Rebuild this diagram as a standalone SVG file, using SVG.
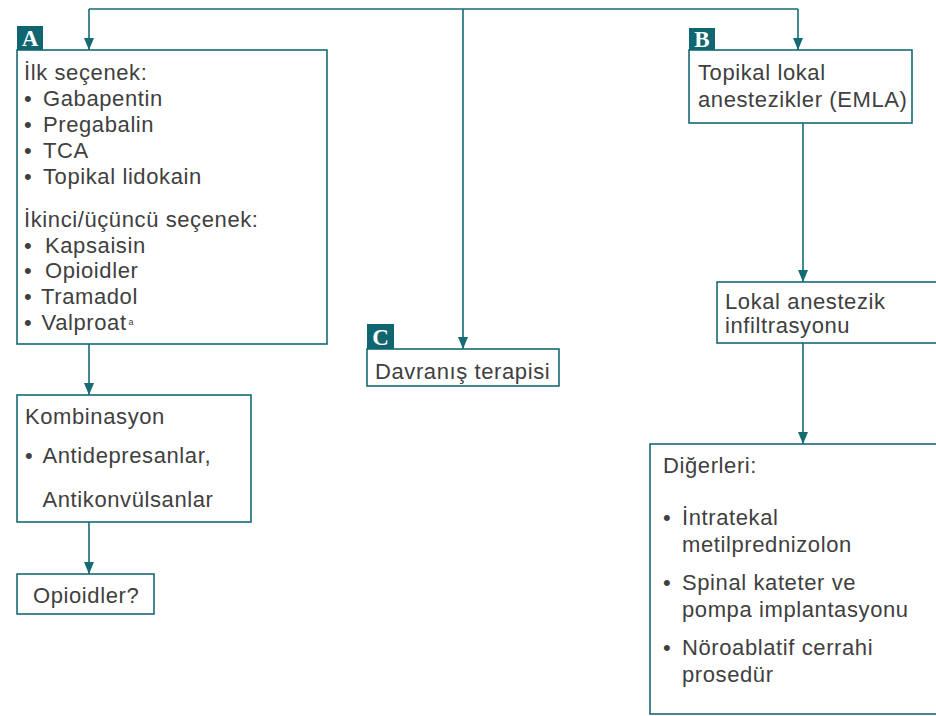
<svg xmlns="http://www.w3.org/2000/svg" width="936" height="716" viewBox="0 0 936 716">
  <style>
    .box { fill: #ffffff; stroke: #156b73; stroke-width: 1.6; }
    .tag { fill: #0f6670; }
    .tagtxt { font-family: "Liberation Serif", "Times New Roman", serif; font-weight: bold; font-size: 23px; fill: #ffffff; text-anchor: middle; }
    .t { font-family: "Liberation Sans", Arial, sans-serif; font-size: 22px; letter-spacing: 0.6px; fill: #404040; }
    .sup { font-size: 9px; letter-spacing: 0; }
    .conn { fill: none; stroke: #156b73; stroke-width: 1.6; }
  </style>
  <defs>
    <marker id="arrow" viewBox="0 0 12 10" refX="12" refY="5" markerWidth="12" markerHeight="10" markerUnits="userSpaceOnUse" orient="auto">
      <path d="M0,0 L12,5 L0,10 z" fill="#156b73"/>
    </marker>
  </defs>
  <rect width="936" height="716" fill="#ffffff"/>

  <!-- connectors -->
  <g id="connectors">
    <path class="conn" d="M89,9 H798"/>
    <path class="conn" d="M89,9 V50" marker-end="url(#arrow)"/>
    <path class="conn" d="M463,9 V349" marker-end="url(#arrow)"/>
    <path class="conn" d="M798,9 V50" marker-end="url(#arrow)"/>
    <path class="conn" d="M89,344 V395" marker-end="url(#arrow)"/>
    <path class="conn" d="M89,522 V574" marker-end="url(#arrow)"/>
    <path class="conn" d="M803,123 V282" marker-end="url(#arrow)"/>
    <path class="conn" d="M803,343 V444" marker-end="url(#arrow)"/>
  </g>

  <!-- A: pharmacological options -->
  <g id="nodeA">
    <rect class="box" x="17" y="50" width="310" height="294"/>
    <rect class="tag" x="17" y="26" width="26" height="24"/>
    <text class="tagtxt" x="30" y="46">A</text>
    <text class="t" x="24" y="80">İlk seçenek:</text>
    <text class="t" x="24" y="106">• <tspan x="43">Gabapentin</tspan></text>
    <text class="t" x="24" y="132">• <tspan x="43">Pregabalin</tspan></text>
    <text class="t" x="24" y="157.5">• <tspan x="43">TCA</tspan></text>
    <text class="t" x="24" y="183.5">• <tspan x="43">Topikal lidokain</tspan></text>
    <text class="t" x="24" y="227">İkinci/üçüncü seçenek:</text>
    <text class="t" x="24" y="253">• <tspan x="45">Kapsaisin</tspan></text>
    <text class="t" x="24" y="278">• <tspan x="45">Opioidler</tspan></text>
    <text class="t" x="24" y="304">•<tspan x="41">Tramadol</tspan></text>
    <text class="t" x="24" y="330">• <tspan x="41.5">Valproat</tspan><tspan class="sup" dx="2" dy="-5">a</tspan></text>
  </g>

  <g id="nodeCombination">
    <rect class="box" x="17" y="395" width="234" height="127"/>
    <text class="t" x="25" y="424">Kombinasyon</text>
    <text class="t" x="25" y="463">• <tspan x="42.5">Antidepresanlar,</tspan></text>
    <text class="t" x="42.5" y="507">Antikonvülsanlar</text>
  </g>

  <g id="nodeOpioids">
    <rect class="box" x="17" y="574" width="137" height="40"/>
    <text class="t" x="33" y="603">Opioidler?</text>
  </g>

  <!-- C: behavioural therapy -->
  <g id="nodeC">
    <rect class="box" x="367" y="349" width="192" height="37"/>
    <rect class="tag" x="367" y="324" width="27" height="25"/>
    <text class="tagtxt" x="380.5" y="345">C</text>
    <text class="t" x="375" y="379">Davranış terapisi</text>
  </g>

  <!-- B: local anaesthetic pathway -->
  <g id="nodeB">
    <rect class="box" x="689" y="50" width="223" height="73"/>
    <rect class="tag" x="689" y="28" width="26" height="22"/>
    <text class="tagtxt" x="702" y="47">B</text>
    <text class="t" x="698" y="80">Topikal lokal</text>
    <text class="t" x="698" y="107">anestezikler (EMLA)</text>
  </g>

  <g id="nodeInfiltration">
    <rect class="box" x="717" y="282" width="240" height="61"/>
    <text class="t" x="725" y="309">Lokal anestezik</text>
    <text class="t" x="725" y="333">infiltrasyonu</text>
  </g>

  <g id="nodeOthers">
    <rect class="box" x="650" y="444" width="300" height="270"/>
    <text class="t" x="663" y="473">Diğerleri:</text>
    <text class="t" x="663" y="525">• <tspan x="682">İntratekal</tspan></text>
    <text class="t" x="682" y="552">metilprednizolon</text>
    <text class="t" x="663" y="590">• <tspan x="682">Spinal kateter ve</tspan></text>
    <text class="t" x="682" y="617">pompa implantasyonu</text>
    <text class="t" x="663" y="655">• <tspan x="682">Nöroablatif cerrahi</tspan></text>
    <text class="t" x="682" y="682">prosedür</text>
  </g>
</svg>
